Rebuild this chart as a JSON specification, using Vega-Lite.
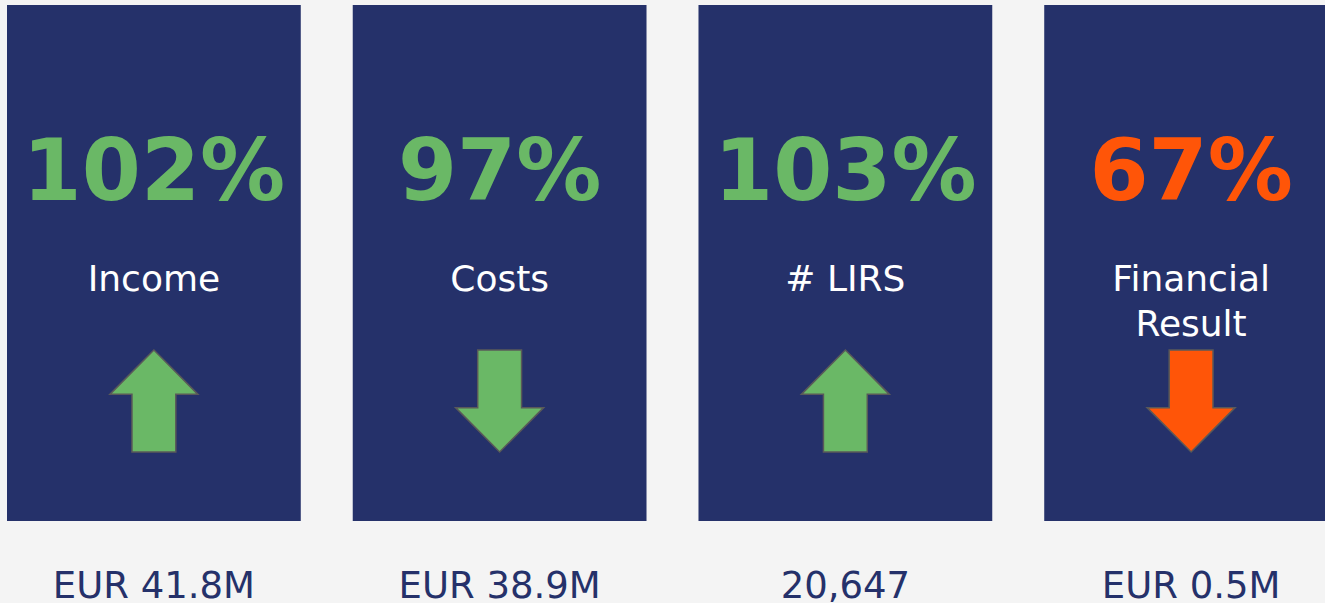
{
  "$schema": "https://vega.github.io/schema/vega-lite/v6.json",
  "width": 1325,
  "height": 603,
  "autosize": {"type": "none"},
  "padding": 0,
  "background": "#f4f4f4",
  "config": {"view": {"stroke": null}},
  "data": {
    "values": [
      {"metric": "Income", "pct": "102%", "label": "Income", "direction": "up", "status": "good", "value": "EUR 41.8M"},
      {"metric": "Costs", "pct": "97%", "label": "Costs", "direction": "down", "status": "good", "value": "EUR 38.9M"},
      {"metric": "# LIRS", "pct": "103%", "label": "# LIRS", "direction": "up", "status": "good", "value": "20,647"},
      {"metric": "Financial Result", "pct": "67%", "label": "Financial\nResult", "direction": "down", "status": "bad", "value": "EUR 0.5M"}
    ]
  },
  "encoding": {
    "x": {
      "field": "metric",
      "type": "nominal",
      "sort": null,
      "scale": {"range": [7, 1338], "paddingInner": 0.1503, "paddingOuter": 0},
      "axis": null
    }
  },
  "layer": [
    {
      "mark": {"type": "rect", "color": "#25316a"},
      "encoding": {
        "y": {"datum": 5, "type": "quantitative", "scale": {"domain": [0, 603], "reverse": true, "nice": false, "zero": false}, "axis": null},
        "y2": {"datum": 521}
      }
    },
    {
      "mark": {"type": "text", "font": "DejaVu Sans", "fontWeight": "bold", "fontSize": 85, "baseline": "alphabetic", "align": "center"},
      "encoding": {
        "y": {"datum": 200, "type": "quantitative"},
        "text": {"field": "pct"},
        "color": {"field": "status", "type": "nominal", "scale": {"domain": ["good", "bad"], "range": ["#6ab866", "#ff5508"]}, "legend": null}
      }
    },
    {
      "mark": {"type": "text", "font": "DejaVu Sans", "fontSize": 36, "baseline": "alphabetic", "align": "center", "color": "#ffffff", "lineBreak": "\n", "lineHeight": 44.5},
      "encoding": {
        "y": {"datum": 291, "type": "quantitative"},
        "text": {"field": "label"}
      }
    },
    {
      "mark": {"type": "point", "filled": true, "opacity": 1, "size": 10404, "stroke": "#595959", "strokeWidth": 1.5, "strokeOpacity": 1},
      "encoding": {
        "y": {"datum": 401, "type": "quantitative"},
        "shape": {
          "field": "direction",
          "type": "nominal",
          "scale": {
            "domain": ["up", "down"],
            "range": [
              "M0,-1L0.863,-0.13L0.43,-0.13L0.43,1L-0.43,1L-0.43,-0.13L-0.863,-0.13Z",
              "M0,1L0.863,0.13L0.43,0.13L0.43,-1L-0.43,-1L-0.43,0.13L-0.863,0.13Z"
            ]
          },
          "legend": null
        },
        "fill": {"field": "status", "type": "nominal", "scale": {"domain": ["good", "bad"], "range": ["#6ab866", "#ff5508"]}, "legend": null}
      }
    },
    {
      "mark": {"type": "text", "font": "DejaVu Sans", "fontSize": 37, "baseline": "alphabetic", "align": "center", "color": "#25316a"},
      "encoding": {
        "y": {"datum": 597.5, "type": "quantitative"},
        "text": {"field": "value"}
      }
    }
  ]
}
